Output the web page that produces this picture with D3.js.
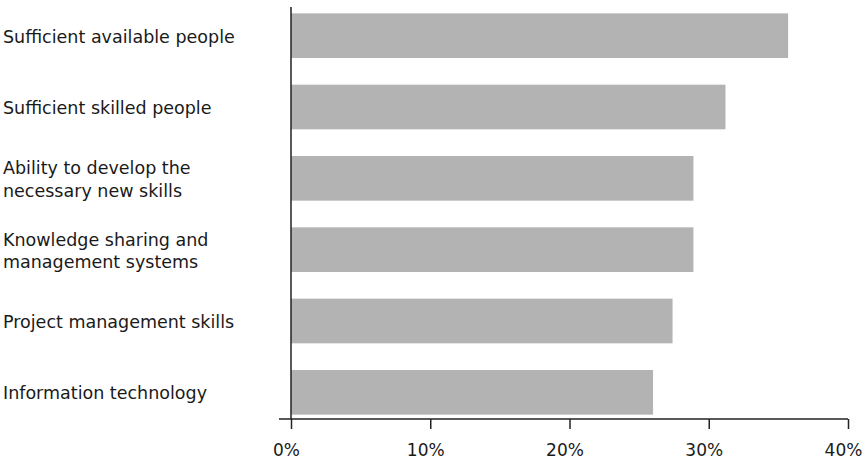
<!DOCTYPE html>
<html>
<head>
<meta charset="utf-8">
<script src="https://cdn.jsdelivr.net/npm/d3@7"></script>
<style>
  html, body { margin: 0; padding: 0; background: #fff; }
  text { font-family: "DejaVu Sans", "Open Sans", sans-serif; fill: #1a1a1a; }
</style>
</head>
<body>
<svg id="chart" width="866" height="461"></svg>
<script>
const categories = [
  ["Sufficient available people"],
  ["Sufficient skilled people"],
  ["Ability to develop the", "necessary new skills"],
  ["Knowledge sharing and", "management systems"],
  ["Project management skills"],
  ["Information technology"]
];
const values = [35.7, 31.2, 28.9, 28.9, 27.4, 26.0];
const tickValues = [0, 10, 20, 30, 40];
const tickLabels = ["0%", "10%", "20%", "30%", "40%"];

const svg = d3.select("#chart");
const x0 = 291, x1 = 848, axisY = 419;

const x = d3.scaleLinear().domain([0, 40]).range([x0, x1]);
const y = d3.scaleBand()
  .domain(categories.map((d, i) => i))
  .range([0, 428])
  .paddingInner(0.374)
  .paddingOuter(0.187);

// bars
svg.append("g").selectAll("rect")
  .data(values)
  .join("rect")
  .attr("x", x(0))
  .attr("y", (d, i) => y(i))
  .attr("width", d => x(d) - x(0))
  .attr("height", y.bandwidth())
  .attr("fill", "#b3b3b3");

// category labels (one text element per line)
const fs = 17.5;
const lineRows = [];
categories.forEach((lines, i) => {
  const c = y(i) + y.bandwidth() / 2;
  if (lines.length === 1) lineRows.push({ t: lines[0], y: c + 7 });
  else {
    lineRows.push({ t: lines[0], y: c - 4 });
    lineRows.push({ t: lines[1], y: c + 18.5 });
  }
});
svg.append("g").selectAll("text")
  .data(lineRows)
  .join("text")
  .attr("x", 3)
  .attr("y", d => d.y)
  .style("font-size", fs + "px")
  .text(d => d.t);

// x axis
const xAxis = d3.axisBottom(x)
  .tickValues(tickValues)
  .tickFormat((d, i) => tickLabels[i])
  .tickSize(10)
  .tickSizeOuter(0)
  .tickPadding(15);
const gx = svg.append("g").attr("transform", `translate(0,${axisY})`).call(xAxis);
gx.select(".domain").remove();
gx.append("line")
  .attr("x1", 279).attr("x2", x(40))
  .attr("y1", 0).attr("y2", 0)
  .attr("stroke", "#222").attr("stroke-width", 1.5);
gx.selectAll(".tick line").attr("stroke", "#222").attr("stroke-width", 1.5);
gx.selectAll(".tick text")
  .attr("dx", -5)
  .style("font-size", "17px")
  .style("font-family", "'DejaVu Sans', 'Open Sans', sans-serif")
  .attr("fill", "#1a1a1a");

// y axis line
svg.append("line")
  .attr("x1", x0).attr("x2", x0)
  .attr("y1", 7).attr("y2", axisY)
  .attr("stroke", "#222").attr("stroke-width", 1.5);
</script>
</body>
</html>
